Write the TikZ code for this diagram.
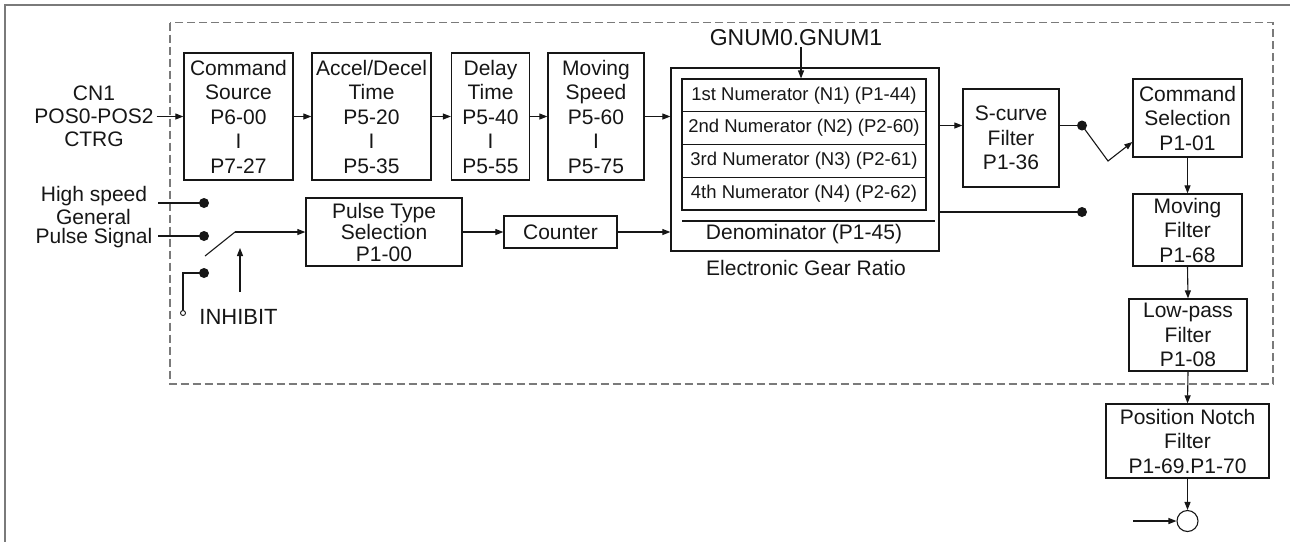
\documentclass[tikz,border=0pt]{standalone}
\usepackage{fontspec}
\setmainfont{Liberation Sans}
\usetikzlibrary{arrows.meta,calc}
\definecolor{ink}{HTML}{161616}
\definecolor{frame}{HTML}{7A7A7A}
\newcommand\fbig{\fontsize{21}{24.5}\selectfont}
\newcommand\fmid{\fontsize{21}{21.5}\selectfont}
\newcommand\fsmall{\fontsize{18.5}{20}\selectfont}
\tikzset{
  blk/.style={draw=ink, line width=1.3pt, inner sep=0pt, align=center, font=\fbig, text=ink},
  lbl/.style={inner sep=1pt, align=center, font=\fbig, text=ink},
  row/.style={draw=ink, line width=1.1pt, inner sep=0pt, minimum width=244pt, minimum height=32.75pt, font=\fsmall, text=ink},
  arr/.style={draw=ink, line width=1.1pt, -{Triangle[length=8pt,width=6pt]}},
  wire/.style={draw=ink, line width=1.1pt},
  dot/.style={circle, fill=ink, inner sep=0pt, minimum size=10pt},
}
\begin{document}
\begin{tikzpicture}[x=1pt,y=-1pt]
\useasboundingbox (0,0) rectangle (1290,542);
% outer frame (top and left)
\draw[frame, line width=2pt] (1290,5) -- (5,5) -- (5,542);
% dashed region
\draw[frame, line width=1.3pt, dash pattern=on 8pt off 4pt] (170,22.5) rectangle (1273,384);

% top chain
\node[lbl, inner sep=3pt, font=\fontsize{21}{23}\selectfont] (cn1) at (94,116.5) {CN1\\POS0-POS2\\CTRG};
\node[blk, minimum width=109pt, minimum height=127pt] (cmdsrc) at (238.5,116.5) {Command\\Source\\P6-00\\I\\P7-27};
\node[blk, minimum width=119pt, minimum height=127pt] (accel) at (371.5,116.5) {Accel/Decel\\Time\\P5-20\\I\\P5-35};
\node[blk, minimum width=78pt, minimum height=127pt] (delay) at (490.5,116.5) {Delay\\Time\\P5-40\\I\\P5-55};
\node[blk, minimum width=96pt, minimum height=127pt] (speed) at (596,116.5) {Moving\\Speed\\P5-60\\I\\P5-75};

% electronic gear
\node[blk, minimum width=268pt, minimum height=183pt] (gear) at (805,159.5) {};
\node[row] (n1) at (804,95.4) {1st Numerator (N1) (P1-44)};
\node[row] (n2) at (804,128.1) {2nd Numerator (N2) (P2-60)};
\node[row] (n3) at (804,160.9) {3rd Numerator (N3) (P2-61)};
\node[row] (n4) at (804,193.6) {4th Numerator (N4) (P2-62)};
\coordinate (dl) at (682,221);
\coordinate (dr) at (935,221);
\draw[wire] (dl) -- (dr);
\node[lbl] (den) at (804,234) {Denominator (P1-45)};
\node[lbl] (egr) at (806,268) {Electronic Gear Ratio};
\node[lbl, font=\fontsize{23}{24}\selectfont] (gnum) at (796,38) {GNUM0.GNUM1};

% right side
\node[blk, minimum width=96pt, minimum height=98pt] (scurve) at (1011,138) {S-curve\\Filter\\P1-36};
\node[blk, minimum width=109pt, minimum height=78pt] (cmdsel) at (1187.5,118) {Command\\Selection\\P1-01};
\node[blk, minimum width=109pt, minimum height=72pt] (movf) at (1187.5,230) {Moving\\Filter\\P1-68};
\node[blk, minimum width=118pt, minimum height=72pt] (lowp) at (1188,335) {Low-pass\\Filter\\P1-08};
\node[blk, minimum width=163pt, minimum height=74pt] (notch) at (1187.5,441) {Position Notch\\Filter\\P1-69.P1-70};
\node[circle, draw=ink, line width=1.1pt, minimum size=21pt, inner sep=0pt] (sum) at (1187.5,521) {};
\coordinate (sumin) at (1133,521);

% pulse path
\node[blk, font=\fmid, minimum width=156pt, minimum height=68pt] (ptype) at (384,232) {Pulse Type\\Selection\\P1-00};
\node[blk, minimum width=113pt, minimum height=32pt] (counter) at (560.5,232) {Counter};

\node[lbl] (hs) at (94,196) {High speed};
\node[lbl] (gen) at (93.5,217) {General};
\node[lbl] (ps) at (94,238) {Pulse Signal};
\node[lbl, font=\fontsize{22}{24}\selectfont] (inh) at (238.5,317) {INHIBIT};

\coordinate (hsin) at (158,203);
\coordinate (psin) at (158,236);
\node[dot] (da) at (204,203) {};
\node[dot] (db) at (204,236) {};
\node[dot] (dc) at (204,273) {};
\node[circle, draw=ink, line width=0.9pt, fill=white, minimum size=5pt, inner sep=0pt] (oc) at (183,313) {};
\coordinate (sw1) at (205,256);
\coordinate (sw2) at (235,232);
\coordinate (inhb) at (240,292);
\coordinate (inht) at (240,248);

\node[dot] (d1) at (1082,125.5) {};
\node[dot] (d2) at (1082,212) {};
\coordinate (swm) at (1108,161);

% connectors: top chain
\draw[arr] (cn1.east) -- (cmdsrc.west);
\draw[arr] (cmdsrc.east) -- (accel.west);
\draw[arr] (accel.east) -- (delay.west);
\draw[arr] (delay.east) -- (speed.west);
\draw[arr] (speed.east) -- (speed.east -| gear.west);
\draw[arr] (gnum.south -| 801,0) -- (801,0 |- n1.north);

% gear to s-curve and selection
\draw[arr] (gear.east |- d1) -- (scurve.west |- d1);
\draw[wire] (scurve.east |- d1) -- (d1.center);
\draw[arr] (d1.center) -- (swm) -- ([yshift=-24pt]cmdsel.west);
\draw[wire] (gear.east |- d2) -- (d2.center);
\draw[arr] (cmdsel.south) -- (movf.north);
\draw[arr] (movf.south) -- (lowp.north);
\draw[arr] (lowp.south) -- (notch.north);
\draw[arr] (notch.south) -- (sum.north);
\draw[arr] (sumin) -- (sum.west);

% pulse inputs
\draw[wire] (hsin) -- (da.center);
\draw[wire] (psin) -- (db.center);
\draw[wire] (dc.center) -| (oc.north);
\draw[wire] (sw1) -- (sw2);
\draw[arr] (sw2) -- (ptype.west);
\draw[arr] (inhb) -- (inht);
\draw[arr] (ptype.east) -- (counter.west);
\draw[arr] (counter.east) -- (counter.east -| gear.west);
\end{tikzpicture}
\end{document}
